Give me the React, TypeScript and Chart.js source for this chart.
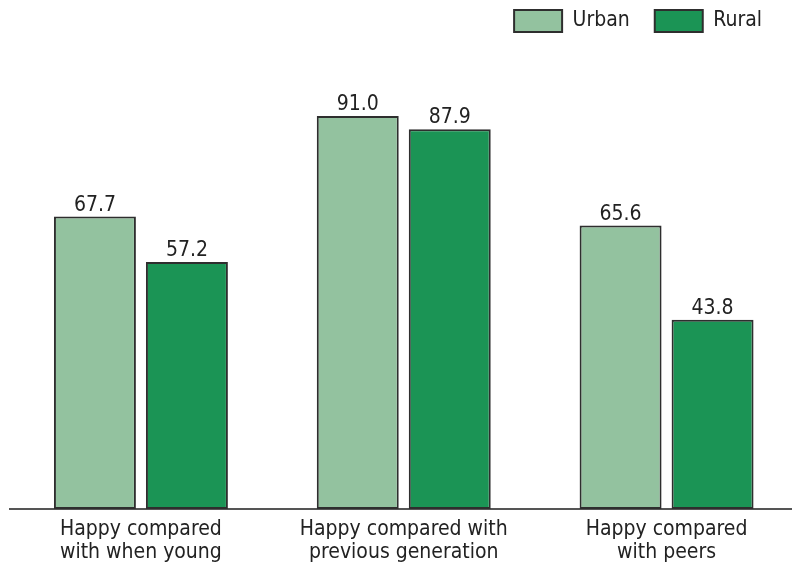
import React, { useEffect, useRef } from 'react';
import { Chart, registerables } from 'chart.js';

Chart.register(...registerables);

const categories: string[][] = [
  ['Happy compared', 'with when young'],
  ['Happy compared with', 'previous generation'],
  ['Happy compared', 'with peers'],
];
const seriesNames = ['Urban', 'Rural'];
const urbanValues = [67.7, 91.0, 65.6];
const ruralValues = [57.2, 87.9, 43.8];
const yMax = 100;

const FONT = "'DejaVu Sans Condensed', 'DejaVu Sans', sans-serif";
const URBAN_COLOR = '#93c29f';
const RURAL_COLOR = '#1b9455';
const EDGE = '#2e2e2e';
const TEXT = '#222222';

const valueLabels = {
  id: 'valueLabels',
  afterDatasetsDraw(chart: any) {
    const ctx = chart.ctx;
    ctx.save();
    ctx.font = `21px ${FONT}`;
    ctx.fillStyle = TEXT;
    ctx.textAlign = 'center';
    ctx.textBaseline = 'alphabetic';
    chart.data.datasets.forEach((ds: any, di: number) => {
      const meta = chart.getDatasetMeta(di);
      meta.data.forEach((el: any, i: number) => {
        const v = ds.data[i];
        ctx.fillText(Number(v).toFixed(1), el.x, el.y - 6);
      });
    });
    ctx.restore();
  },
};

const layoutTweak = {
  id: 'layoutTweak',
  beforeInit(chart: any) {
    const lg = chart.legend;
    if (lg) {
      const orig = lg.fit;
      lg.fit = function () {
        orig.call(this);
        this.height = 77;
      };
    }
  },
  afterLayout(chart: any) {
    const lg = chart.legend;
    if (lg) {
      const dx = 787 - lg.right;
      lg.left += dx;
      lg.right += dx;
      lg.top = -15;
      lg.bottom = lg.top + lg.height;
    }
  },
};

export default function App() {
  const ref = useRef<HTMLCanvasElement | null>(null);
  useEffect(() => {
    if (!ref.current) return;
    const chart = new Chart(ref.current, {
      type: 'bar',
      data: {
        labels: categories,
        datasets: [
          {
            label: seriesNames[0],
            data: urbanValues,
            backgroundColor: URBAN_COLOR,
            borderColor: EDGE,
            borderWidth: 2,
            borderSkipped: false,
            barPercentage: 0.891,
            categoryPercentage: 0.7,
          },
          {
            label: seriesNames[1],
            data: ruralValues,
            backgroundColor: RURAL_COLOR,
            borderColor: EDGE,
            borderWidth: 2,
            borderSkipped: false,
            barPercentage: 0.891,
            categoryPercentage: 0.7,
          },
        ],
      },
      options: {
        responsive: false,
        animation: false,
        devicePixelRatio: 1,
        layout: { padding: { left: 9.5, right: 2, top: 0, bottom: 0 } },
        plugins: {
          tooltip: { enabled: false },
          title: { display: false },
          legend: {
            position: 'top',
            align: 'end',
            labels: {
              boxWidth: 48,
              boxHeight: 22,
              padding: 25,
              color: TEXT,
              font: { family: FONT, size: 21 },
            },
          },
        },
        scales: {
          x: {
            grid: { display: false, drawTicks: false },
            border: { display: true, color: '#555555', width: 2 },
            ticks: {
              color: TEXT,
              font: { family: FONT, size: 21, lineHeight: 1.11 },
              padding: 9,
              maxRotation: 0,
              autoSkip: false,
            },
            afterFit: (s: any) => {
              s.height = 58;
            },
          },
          y: { display: false, min: 0, max: yMax },
        },
      },
      plugins: [valueLabels, layoutTweak],
    } as any);
    return () => chart.destroy();
  }, []);
  return (
    <div style={{ position: 'fixed', left: 0, top: 0, width: 792, height: 567, overflow: 'hidden', background: '#fff' }}>
      <canvas ref={ref} width={800} height={567} style={{ display: 'block' }} />
    </div>
  );
}
